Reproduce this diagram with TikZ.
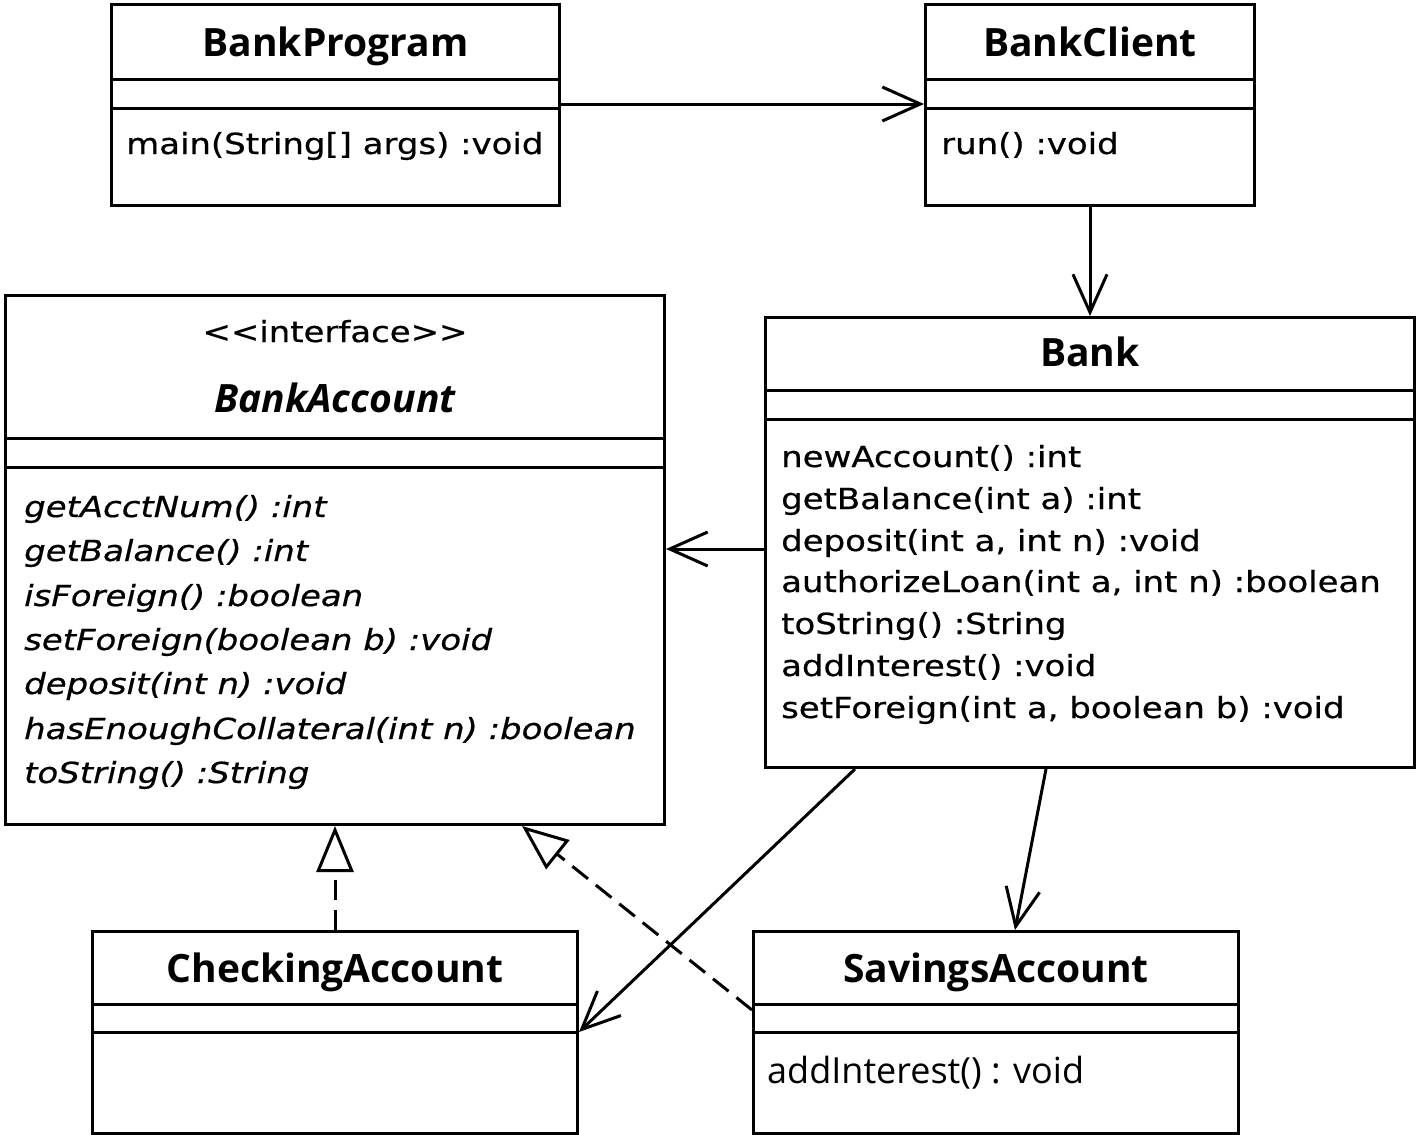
\documentclass[tikz,border=0pt]{standalone}
\usepackage{fontspec}
\usetikzlibrary{arrows.meta,calc}
\newfontfamily\namefont{Open Sans}
\newfontfamily\methfont[FakeStretch=1.17,FakeBold=0.6]{DejaVu Sans}
\newcommand{\nmf}{\namefont\bfseries\fontsize{39}{40}\selectfont}
\newcommand{\mtf}{\methfont\fontsize{29}{30}\selectfont}
\begin{document}
\begin{tikzpicture}[x=1pt,y=-1pt,
  box/.style={draw,line width=3pt,inner sep=0pt,anchor=north west,fill=white},
  sep/.style={line width=3pt},
  nm/.style={anchor=base,inner sep=0pt,font=\nmf},
  mt/.style={anchor=base west,inner sep=0pt,font=\mtf},
  mti/.style={anchor=base west,inner sep=0pt,font=\mtf\itshape},
  assoc/.style={line width=3pt,-{Straight Barb[length=38pt,width=34pt,line width=3pt]}},
  real/.style={line width=3pt,dash pattern=on 20pt off 10pt,-{Triangle[open,length=46pt,width=37pt,line width=3pt,fill=white]}}]
\useasboundingbox (0,0) rectangle (1417,1135);
% BankProgram
\node[box,minimum width=448pt,minimum height=201pt] (prog) at (110,3) {};
\draw[sep] (prog.west |- 0,79) -- (prog.east |- 0,79);
\draw[sep] (prog.west |- 0,108) -- (prog.east |- 0,108);
\node[nm] (progname) at (prog.north |- 0,56) {BankProgram};
\node[mt] (progm) at (126,154) {main(String[] args) :void};
% BankClient
\node[box,minimum width=329pt,minimum height=201pt] (client) at (924,3) {};
\draw[sep] (client.west |- 0,79) -- (client.east |- 0,79);
\draw[sep] (client.west |- 0,108) -- (client.east |- 0,108);
\node[nm] (clientname) at (client.north |- 0,56) {BankClient};
\node[mt] (clientm) at (941,154) {run() :void};
% BankAccount
\node[box,minimum width=659pt,minimum height=529pt] (acct) at (4,294) {};
\draw[sep] (acct.west |- 0,438) -- (acct.east |- 0,438);
\draw[sep] (acct.west |- 0,467) -- (acct.east |- 0,467);
\node[anchor=base,inner sep=0pt,font=\mtf] (stereo) at (acct.north |- 0,342) {<<interface>>};
\node[anchor=base,inner sep=0pt,font=\namefont\bfseries\itshape\fontsize{39}{40}\selectfont] (acctname) at (acct.north |- 0,412) {BankAccount};
\node[mti] (a1) at (24,517) {getAcctNum() :int};
\node[mti] (a2) at (24,561) {getBalance() :int};
\node[mti] (a3) at (24,606) {isForeign() :boolean};
\node[mti] (a4) at (24,650) {setForeign(boolean b) :void};
\node[mti] (a5) at (24,694) {deposit(int n) :void};
\node[mti] (a6) at (24,739) {hasEnoughCollateral(int n) :boolean};
\node[mti] (a7) at (24,783) {toString() :String};
% Bank
\node[box,minimum width=649pt,minimum height=450pt] (bank) at (764,316) {};
\draw[sep] (bank.west |- 0,390) -- (bank.east |- 0,390);
\draw[sep] (bank.west |- 0,419) -- (bank.east |- 0,419);
\node[nm] (bankname) at (bank.north |- 0,366) {Bank};
\node[mt] (b1) at (781,467) {newAccount() :int};
\node[mt] (b2) at (781,509) {getBalance(int a) :int};
\node[mt] (b3) at (781,551) {deposit(int a, int n) :void};
\node[mt] (b4) at (781,592) {authorizeLoan(int a, int n) :boolean};
\node[mt] (b5) at (781,634) {toString() :String};
\node[mt] (b6) at (781,676) {addInterest() :void};
\node[mt] (b7) at (781,718) {setForeign(int a, boolean b) :void};
% CheckingAccount
\node[box,minimum width=485pt,minimum height=202pt] (check) at (91,930) {};
\draw[sep] (check.west |- 0,1004) -- (check.east |- 0,1004);
\draw[sep] (check.west |- 0,1032) -- (check.east |- 0,1032);
\node[nm] (checkname) at (check.north |- 0,982) {CheckingAccount};
% SavingsAccount
\node[box,minimum width=485pt,minimum height=202pt] (sav) at (752,930) {};
\draw[sep] (sav.west |- 0,1004) -- (sav.east |- 0,1004);
\draw[sep] (sav.west |- 0,1032) -- (sav.east |- 0,1032);
\node[nm] (savname) at (sav.north |- 0,982) {SavingsAccount};
\node[anchor=base west,inner sep=0pt,font=\namefont\fontsize{36}{38}\selectfont] (savm) at (767,1083) {addInterest() : void};
% connectors
\draw[assoc] (prog.east |- 0,104) -- (client.west |- 0,104);
\draw[assoc] (client.south) -- (client.south |- bank.north);
\draw[assoc] (bank.west |- 0,549) -- (acct.east |- 0,549);
\draw[real] (check.north) -- (check.north |- acct.south);
\draw[real] (sav.west |- 0,1010) -- ($(acct.south west)+(518,0)$);
\draw[assoc] ($(bank.south west)+(91,0)$) -- (check.east |- 0,1032);
\draw[assoc] ($(bank.south west)+(282,0)$) -- ($(sav.north west)+(263,0)$);
\end{tikzpicture}
\end{document}
